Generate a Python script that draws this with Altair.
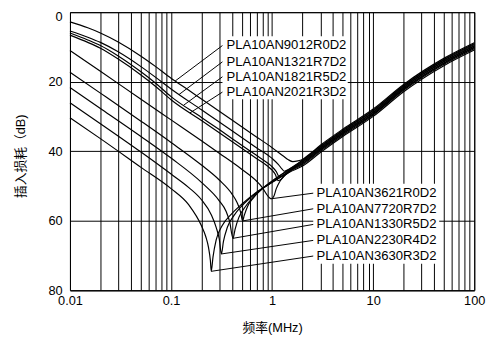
import altair as alt
import pandas as pd

# ---- curve data (frequency MHz, insertion loss dB) ----
names = ["PLA10AN9012R0D2", "PLA10AN1321R7D2", "PLA10AN1821R5D2", "PLA10AN2021R3D2",
         "PLA10AN3621R0D2", "PLA10AN7720R7D2", "PLA10AN1330R5D2", "PLA10AN2230R4D2",
         "PLA10AN3630R3D2"]

f_9012 = [0.01, 0.015, 0.02, 0.03, 0.05, 0.07, 0.1, 0.15, 0.2, 0.3, 0.5, 0.7, 1.0, 1.3, 1.45, 1.6, 1.8, 2.0, 3, 5, 10, 20, 50, 100]
db_9012 = [2.8, 4.5, 6.0, 8.6, 12.6, 15.6, 19.0, 22.5, 25.0, 28.5, 33.0, 35.9, 39.0, 41.5, 42.5, 43.0, 42.8, 42.4, 38.3, 33.7, 27.9, 20.8, 13.3, 8.8]

f_1321 = [0.01, 0.015, 0.02, 0.03, 0.05, 0.07, 0.1, 0.2, 0.3, 0.5, 0.7, 1.0, 1.15, 1.25, 1.32, 1.45, 1.7, 2.0, 3, 5, 10, 20, 50, 100]
db_1321 = [5.4, 7.2, 8.7, 11.4, 15.6, 18.7, 22.1, 28.1, 31.6, 36.1, 39.0, 42.1, 43.8, 45.1, 45.8, 45.3, 44.0, 42.7, 38.8, 34.2, 28.4, 21.3, 13.8, 9.3]

f_1821 = [0.01, 0.015, 0.02, 0.03, 0.05, 0.07, 0.1, 0.2, 0.3, 0.5, 0.7, 0.9, 1.0, 1.1, 1.18, 1.25, 1.4, 1.7, 2.0, 3, 5, 10, 20, 50, 100]
db_1821 = [6.0, 8.0, 9.6, 12.6, 17.1, 20.4, 24.3, 30.3, 33.8, 38.3, 41.2, 43.4, 44.5, 45.9, 47.4, 47.2, 46.2, 44.4, 43.2, 39.3, 34.7, 28.9, 21.8, 14.3, 9.8]

f_2021 = [0.01, 0.015, 0.02, 0.03, 0.05, 0.07, 0.1, 0.2, 0.3, 0.5, 0.7, 0.9, 1.0, 1.08, 1.14, 1.2, 1.35, 1.6, 2.0, 3, 5, 10, 20, 50, 100]
db_2021 = [6.6, 8.7, 10.4, 13.5, 18.0, 21.3, 25.2, 31.2, 34.7, 39.2, 42.1, 44.3, 45.5, 46.8, 48.5, 48.3, 46.9, 45.2, 43.6, 39.7, 35.1, 29.3, 22.2, 14.7, 10.2]

f_3621 = [0.01, 0.02, 0.05, 0.1, 0.2, 0.3, 0.5, 0.7, 0.8, 0.88, 0.94, 0.99, 1.04, 1.1, 1.2, 1.4, 1.7, 2.0, 3, 5, 10, 20, 50, 100]
db_3621 = [11.0, 17.0, 25.0, 31.0, 37.0, 40.6, 45.2, 48.6, 50.5, 52.4, 53.4, 53.7, 53.0, 50.8, 48.6, 46.4, 44.3, 42.5, 38.6, 34.0, 28.2, 21.1, 13.6, 9.1]

f_7720 = [0.01, 0.02, 0.05, 0.1, 0.2, 0.3, 0.4, 0.45, 0.49, 0.51, 0.53, 0.57, 0.65, 0.8, 1.0, 1.3, 1.6, 2.0, 3, 5, 10, 20, 50, 100]
db_7720 = [17.3, 23.3, 31.3, 37.5, 44.0, 48.3, 52.3, 54.8, 57.8, 60.1, 58.5, 56.0, 53.5, 50.8, 48.6, 46.3, 44.6, 43.0, 39.1, 34.5, 28.7, 21.6, 14.1, 9.6]

f_1330 = [0.01, 0.02, 0.05, 0.1, 0.2, 0.3, 0.35, 0.38, 0.41, 0.43, 0.47, 0.55, 0.7, 1.0, 1.3, 1.6, 2.0, 3, 5, 10, 20, 50, 100]
db_1330 = [21.7, 27.7, 35.7, 42.0, 49.0, 54.3, 57.3, 60.3, 65.1, 62.5, 59.0, 55.8, 52.3, 48.8, 46.4, 44.9, 43.5, 39.6, 35.0, 29.2, 22.1, 14.6, 10.1]

f_2230 = [0.01, 0.02, 0.05, 0.1, 0.15, 0.2, 0.25, 0.28, 0.3, 0.315, 0.33, 0.36, 0.42, 0.5, 0.7, 1.0, 1.5, 2.0, 3, 5, 10, 20, 50, 100]
db_2230 = [26.1, 32.1, 40.2, 46.6, 50.5, 54.0, 58.3, 62.0, 65.3, 69.6, 66.0, 62.0, 58.5, 55.8, 52.0, 48.9, 45.7, 43.9, 40.0, 35.4, 29.6, 22.5, 15.0, 10.5]

f_3630 = [0.01, 0.02, 0.05, 0.1, 0.15, 0.2, 0.22, 0.235, 0.245, 0.25, 0.26, 0.28, 0.32, 0.4, 0.5, 0.7, 1.0, 1.5, 2.0, 3, 5, 10, 20, 50, 100]
db_3630 = [30.4, 36.4, 44.6, 50.8, 55.5, 61.5, 64.5, 67.8, 71.5, 74.6, 70.5, 65.5, 61.5, 58.0, 55.3, 51.8, 49.0, 46.0, 44.3, 40.4, 35.8, 30.0, 22.9, 15.4, 10.9]

curve_f = [f_9012, f_1321, f_1821, f_2021, f_3621, f_7720, f_1330, f_2230, f_3630]
curve_db = [db_9012, db_1321, db_1821, db_2021, db_3621, db_7720, db_1330, db_2230, db_3630]

# ---- axis ticks ----
x_ticks = [0.01, 0.02, 0.03, 0.04, 0.05, 0.06, 0.07, 0.08, 0.09,
           0.1, 0.2, 0.3, 0.4, 0.5, 0.6, 0.7, 0.8, 0.9,
           1, 2, 3, 4, 5, 6, 7, 8, 9,
           10, 20, 30, 40, 50, 60, 70, 80, 90, 100]
y_ticks = [0, 20, 40, 60, 80]

# ---- labels (anchors in data units) ----
top_names = names[:4]
top_label_f = [0.353, 0.353, 0.353, 0.353]
top_label_db = [9.6, 14.3, 18.6, 23.0]
top_leader_f0 = [0.3225, 0.3225, 0.3225, 0.3225]
top_leader_db0 = [9.6, 14.3, 18.6, 23.0]
top_leader_f1 = [0.110, 0.120, 0.133, 0.154]
top_leader_db1 = [19.8, 23.7, 26.8, 29.0]

bot_names = names[4:]
bot_label_f = [2.754, 2.754, 2.754, 2.754, 2.754]
bot_label_db = [52.1, 56.6, 61.1, 65.7, 70.2]
bot_leader_f0 = [2.552, 2.552, 2.552, 2.552, 2.552]
bot_leader_db0 = [52.1, 56.6, 61.1, 65.7, 70.2]
bot_leader_f1 = [0.99, 0.51, 0.41, 0.315, 0.25]
bot_leader_db1 = [53.7, 60.1, 65.1, 69.6, 74.6]

box_f0 = [0.3225, 2.552]
box_f1 = [5.6, 45.0]
box_db0 = [6.9, 49.4]
box_db1 = [25.1, 72.4]

# ---- build tables ----
rows = []
for n, fs, ds in zip(names, curve_f, curve_db):
    for i, (f, d) in enumerate(zip(fs, ds)):
        rows.append({"name": n, "f": f, "db": d, "i": i})
curves = pd.DataFrame(rows)

labels = pd.DataFrame({
    "name": top_names + bot_names,
    "f": top_label_f + bot_label_f,
    "db": top_label_db + bot_label_db,
})
leaders = pd.DataFrame({
    "f": top_leader_f0 + bot_leader_f0,
    "db": top_leader_db0 + bot_leader_db0,
    "f1": top_leader_f1 + bot_leader_f1,
    "db1": top_leader_db1 + bot_leader_db1,
})
boxes = pd.DataFrame({"f": box_f0, "f1": box_f1, "db": box_db0, "db1": box_db1})

FONT = "Liberation Sans, Arial, Noto Sans CJK SC"
W, H = 411, 282.5

xscale = alt.Scale(type="log", domain=[0.01, 100], nice=False)
yscale = alt.Scale(domain=[0, 80], reverse=True, nice=False, zero=False)

x_axis = alt.Axis(
    values=x_ticks, format="~g",
    labelExpr="(datum.value == 0.01 || datum.value == 0.1 || datum.value == 1 || datum.value == 10 || datum.value == 100) ? datum.label : ''",
    grid=True, gridColor="#000000", gridWidth=1, gridOpacity=1,
    ticks=False, domain=False, labelOverlap=False, labelBound=False, labelFlush=False,
    labelFont=FONT, labelFontSize=13, labelColor="#000000", labelPadding=5,
    title="频率(MHz)", titleFont=FONT, titleFontSize=13, titleFontWeight="normal",
    titleColor="#000000", titleX=W / 2, titleY=38, titleAlign="center", titleBaseline="middle",
)
y_axis = alt.Axis(
    values=y_ticks, grid=True, gridColor="#000000", gridWidth=1, gridOpacity=1,
    ticks=False, domain=False, labelFont=FONT, labelFontSize=13, labelColor="#000000",
    labelPadding=8,
    labelOffset={"condition": {"test": "datum.value == 0", "value": 4}, "value": 0},
    title="插入损耗（dB)", titleFont=FONT, titleFontSize=13, titleFontWeight="normal",
    titleColor="#000000", titleX=-50, titleY=146, titleAngle=270,
    titleAlign="center", titleBaseline="middle",
)

X = alt.X("f:Q", scale=xscale, axis=x_axis)
Y = alt.Y("db:Q", scale=yscale, axis=y_axis)

lines = alt.Chart(curves).mark_line(color="black", strokeWidth=1.2, interpolate="monotone").encode(
    x=X, y=Y, detail="name:N", order="i:Q",
)

rects = alt.Chart(boxes).mark_rect(color="white").encode(
    x=X, x2="f1:Q", y=Y, y2="db1:Q",
)

rules = alt.Chart(leaders).mark_rule(color="black", strokeWidth=1).encode(
    x=X, x2="f1:Q", y=Y, y2="db1:Q",
)

texts = alt.Chart(labels).mark_text(
    align="left", baseline="middle", font=FONT, fontSize=13.3, color="black"
).encode(
    x=X, y=Y, text="name:N",
)

chart = alt.layer(lines, rects, rules, texts).properties(
    width=W, height=H,
    background="white",
    autosize=alt.AutoSizeParams(type="none"),
    padding={"left": 63, "top": 1.5, "right": 16, "bottom": 48},
).configure_view(stroke="black", strokeWidth=1)

chart.save("out.html", embed_options={"renderer": "svg", "actions": False})
